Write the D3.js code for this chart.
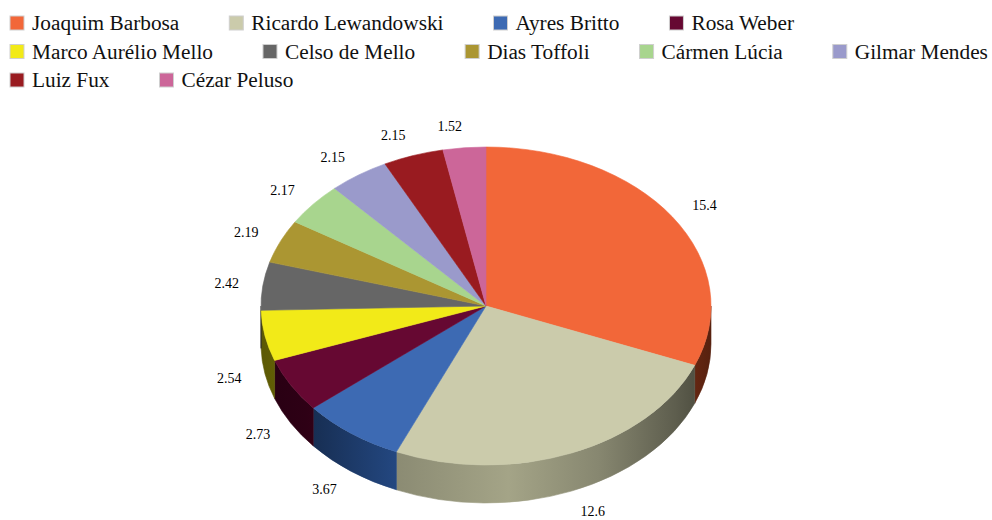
<!DOCTYPE html>
<html>
<head>
<meta charset="utf-8">
<script src="https://cdn.jsdelivr.net/npm/d3@7"></script>
<style>
  html, body { margin: 0; padding: 0; background: #fff; }
  svg { display: block; }
</style>
</head>
<body>
<svg id="chart" width="992" height="520"></svg>
<script>
// Ministers and their shares, in drawing order (clockwise from 12 o'clock)
const names = [
  "Joaquim Barbosa", "Ricardo Lewandowski", "Ayres Britto", "Rosa Weber",
  "Marco Aurélio Mello", "Celso de Mello", "Dias Toffoli", "Cármen Lúcia",
  "Gilmar Mendes", "Luiz Fux", "Cézar Peluso"
];
const values = [15.4, 12.6, 3.67, 2.73, 2.54, 2.42, 2.19, 2.17, 2.15, 2.15, 1.52];
const labels = ["15.4", "12.6", "3.67", "2.73", "2.54", "2.42", "2.19", "2.17", "2.15", "2.15", "1.52"];
const colors = [
  "#f26739", "#cbcbab", "#3d6ab3", "#660832", "#f2ea18", "#666666",
  "#ab9632", "#a8d58e", "#9a9acb", "#991b20", "#cc6699"
];

const svg = d3.select("#chart");
const W = 992;
const FONT = "'Liberation Serif', 'Times New Roman', serif";

// ---------- legend (flowing rows) ----------
const legend = svg.append("g");
const legendLeft = 10, rowH = 28.5, firstRowY = 23, sw = 14, itemGap = 50;
let lx = legendLeft, ly = firstRowY;
names.forEach((n, i) => {
  const g = legend.append("g");
  g.append("rect")
    .attr("width", sw).attr("height", sw)
    .attr("fill", colors[i])
    .attr("stroke", "#cfcfcf").attr("stroke-width", 1);
  const t = g.append("text")
    .attr("x", sw + 8).attr("y", sw / 2)
    .attr("dy", "0.35em")
    .attr("font-family", FONT).attr("font-size", 21.3)
    .attr("fill", "#111")
    .text(n);
  const w = sw + 8 + t.node().getComputedTextLength();
  if (lx + w > W && lx > legendLeft) { lx = legendLeft; ly += rowH; }
  g.attr("transform", `translate(${lx},${ly - sw / 2})`);
  lx += w + itemGap;
});

// ---------- 3D pie ----------
const cx = 486, cy = 306, rx = 225, ry = 159, depth = 38;

const pie = d3.pie().sort(null).value(d => d).startAngle(0).endAngle(2 * Math.PI);
const arcs = pie(values);

const px = a => cx + rx * Math.sin(a);
const py = (a, dz = 0) => cy - ry * Math.cos(a) + dz;

// shading of the rim runs left-to-right across the whole pie
const shade = [
  [0.00, 0.36], [0.10, 0.42], [0.30, 0.68], [0.55, 0.80],
  [0.75, 0.66], [0.92, 0.46], [1.00, 0.34]
];
const defs = svg.append("defs");
colors.forEach((c, i) => {
  const grad = defs.append("linearGradient")
    .attr("id", "rim" + i)
    .attr("gradientUnits", "userSpaceOnUse")
    .attr("x1", cx - rx).attr("x2", cx + rx)
    .attr("y1", 0).attr("y2", 0);
  shade.forEach(([o, f]) => {
    const base = d3.hsl(c);
    base.s = Math.min(1, base.s * 1.15);
    grad.append("stop")
      .attr("offset", o)
      .attr("stop-color", d3.interpolateRgb("#000", base.formatHex())(f));
  });
});

const pieG = svg.append("g");

// rim walls: only the front half (angles between PI/2 and 3PI/2) is visible
const front0 = Math.PI / 2, front1 = 3 * Math.PI / 2;
arcs.forEach((d, i) => {
  const s = Math.max(d.startAngle, front0), e = Math.min(d.endAngle, front1);
  if (e <= s) return;
  const large = (e - s) > Math.PI ? 1 : 0;
  const path =
    `M${px(s)},${py(s)}` +
    `A${rx},${ry} 0 ${large} 1 ${px(e)},${py(e)}` +
    `L${px(e)},${py(e, depth)}` +
    `A${rx},${ry} 0 ${large} 0 ${px(s)},${py(s, depth)}Z`;
  pieG.append("path")
    .attr("d", path)
    .attr("fill", `url(#rim${i})`)
    .attr("stroke", `url(#rim${i})`)
    .attr("stroke-width", 0.6);
});

// top faces
arcs.forEach((d, i) => {
  const s = d.startAngle, e = d.endAngle;
  const large = (e - s) > Math.PI ? 1 : 0;
  const path =
    `M${cx},${cy}L${px(s)},${py(s)}` +
    `A${rx},${ry} 0 ${large} 1 ${px(e)},${py(e)}Z`;
  pieG.append("path")
    .attr("d", path)
    .attr("fill", colors[i])
    .attr("stroke", colors[i])
    .attr("stroke-width", 0.6)
    .attr("stroke-linejoin", "round");
});

// value labels just outside the rim
const off = 24;
arcs.forEach((d, i) => {
  const m = (d.startAngle + d.endAngle) / 2;
  const sn = Math.sin(m), cs = Math.cos(m);
  const x = px(m) + off * sn;
  const y = py(m) - 22 * cs + (cs < 0 ? depth : 0);
  svg.append("text")
    .attr("x", x).attr("y", y)
    .attr("dy", "0.35em")
    .attr("text-anchor", sn >= 0 ? "start" : "end")
    .attr("font-family", FONT).attr("font-size", 14)
    .attr("fill", "#000")
    .text(labels[i]);
});
</script>
</body>
</html>
